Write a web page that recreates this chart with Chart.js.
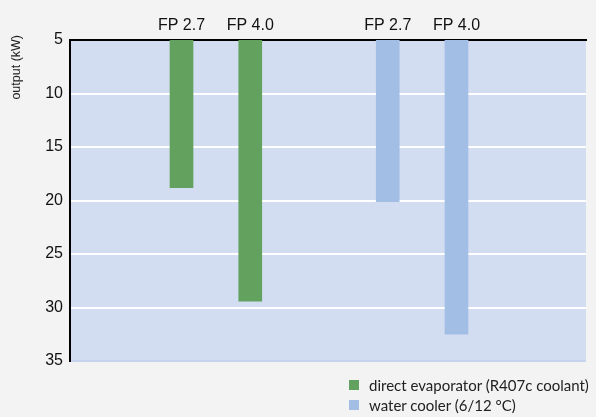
<!DOCTYPE html>
<html>
<head>
<meta charset="utf-8">
<script src="https://cdn.jsdelivr.net/npm/chart.js@4"></script>
<style>
  body { margin: 0; background: #f3f3f3; }
  .wrap { position: relative; width: 596px; height: 417px; }
  #legend { position: absolute; left: 349px; top: 375px; font-family: Lato, sans-serif; font-size: 15px; color: #222; }
  #legend div { display: flex; align-items: center; height: 20px; }
  #legend span.box { display: inline-block; width: 10px; height: 10px; margin-right: 10px; }
</style>
</head>
<body>
<div class="wrap">
  <canvas id="chart" width="596" height="417"></canvas>
  <div id="legend"></div>
</div>
<script>
const tickLabels = ["FP 2.7", "FP 4.0", "FP 2.7", "FP 4.0"];
const xPositions = [1, 2, 4, 5];
const seriesNames = ["direct evaporator (R407c coolant)", "water cooler (6/12 °C)"];
const directValues = [18.8, 29.4];
const waterValues = [20.1, 32.5];
const yStart = 5;
const yTitle = "output (kW)";

const colors = ["#63a15f", "#a3bee5"];

function toBars(positions, values) {
    return values.map((v, i) => ({ x: positions[i], y: [yStart, v] }));
}

const plotBackground = {
    id: "plotBackground",
    beforeDraw(chart) {
        const { ctx, chartArea } = chart;
        ctx.save();
        ctx.fillStyle = "#d2ddf1";
        ctx.fillRect(chartArea.left, chartArea.top, chartArea.right - chartArea.left, chartArea.bottom - chartArea.top);
        ctx.restore();
    }
};

// y title sits at the top of the axis, reading upwards
const topTitle = {
    id: "topTitle",
    afterDraw(chart) {
        const { ctx, chartArea } = chart;
        ctx.save();
        ctx.translate(17, chartArea.top - 5);
        ctx.rotate(-Math.PI / 2);
        ctx.font = "12.5px 'Liberation Sans', Arial, sans-serif";
        ctx.fillStyle = "#222";
        ctx.textAlign = "right";
        ctx.textBaseline = "middle";
        ctx.fillText(yTitle, 0, 0);
        ctx.restore();
    }
};

const chart = new Chart(document.getElementById("chart").getContext("2d"), {
    type: "bar",
    data: {
        datasets: [
            { label: seriesNames[0], data: toBars(xPositions.slice(0, 2), directValues), backgroundColor: colors[0] },
            { label: seriesNames[1], data: toBars(xPositions.slice(2), waterValues), backgroundColor: colors[1] }
        ]
    },
    options: {
        responsive: false,
        animation: false,
        layout: { padding: { top: 0, left: 0, right: 10, bottom: 56 } },
        datasets: { bar: { barThickness: 23, grouped: false } },
        plugins: {
            legend: { display: false },
            tooltip: { enabled: true }
        },
        scales: {
            x: {
                type: "linear",
                position: "top",
                offset: false,
                min: -0.622,
                max: 6.884,
                afterBuildTicks: s => { s.ticks = xPositions.map(v => ({ value: v })); },
                afterFit: s => { s.height = 40; },
                ticks: {
                    autoSkip: false,
                    maxRotation: 0,
                    padding: 5,
                    color: "#111",
                    font: { family: "'Liberation Sans', Arial, sans-serif", size: 16 },
                    callback: (v, i) => tickLabels[i]
                },
                grid: { display: false, drawTicks: false },
                border: { color: "#000", width: 2 }
            },
            y: {
                min: 5,
                max: 35,
                reverse: true,
                afterFit: s => { s.width = 70; },
                ticks: {
                    stepSize: 5,
                    padding: 7,
                    color: "#111",
                    font: { family: "'Liberation Sans', Arial, sans-serif", size: 16 }
                },
                grid: {
                    drawTicks: false,
                    lineWidth: 2,
                    color: c => (c.tick && c.tick.value === 35) ? "#c6d3ec" : "#ffffff"
                },
                border: { color: "#000", width: 2 }
            }
        }
    },
    plugins: [plotBackground, topTitle]
});

// html legend, built from the datasets
document.getElementById("legend").innerHTML = chart.data.datasets.map(ds => `
    <div><span class="box" style="background:${ds.backgroundColor}"></span>${ds.label}</div>
`).join("");
</script>
</body>
</html>
